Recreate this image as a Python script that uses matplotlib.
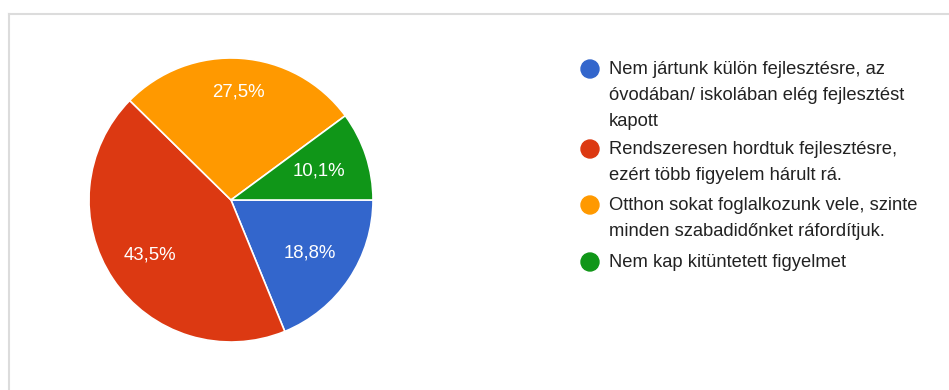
import numpy as np
import matplotlib
matplotlib.use("Agg")
import matplotlib.pyplot as plt
from matplotlib.lines import Line2D

categories = [
    "Nem jártunk külön fejlesztésre, az\nóvodában/ iskolában elég fejlesztést\nkapott",
    "Rendszeresen hordtuk fejlesztésre,\nezért több figyelem hárult rá.",
    "Otthon sokat foglalkozunk vele, szinte\nminden szabadidőnket ráfordítjuk.",
    "Nem kap kitüntetett figyelmet",
]
values = [18.8, 43.5, 27.5, 10.1]
value_labels = ["18,8%", "43,5%", "27,5%", "10,1%"]
colors = ["#3366cc", "#dc3912", "#ff9900", "#109618"]

W, H = 949, 390
fig = plt.figure(figsize=(W / 100, H / 100), dpi=100)
fig.patch.set_facecolor("white")

# full-figure axes in pixel units (y up)
ax = fig.add_axes([0, 0, 1, 1])

# card border: top and left edges
ax.add_line(Line2D([9, W], [H - 14, H - 14], color="#dcdcdc", lw=1.5))
ax.add_line(Line2D([9, 9], [0, H - 14], color="#dcdcdc", lw=1.5))

cx, cy, r = 231, H - 200, 142
wedges, _ = ax.pie(
    values, colors=colors, startangle=0, counterclock=False,
    center=(cx, cy), radius=r, frame=True,
    wedgeprops=dict(edgecolor="white", linewidth=1.2),
)
ax.set_xlim(0, W)
ax.set_ylim(0, H)
ax.set_aspect("equal")
ax.axis("off")

label_dist = [0.67, 0.69, 0.76, 0.65]
for w, txt, d in zip(wedges, value_labels, label_dist):
    ang = np.deg2rad((w.theta1 + w.theta2) / 2)
    ax.text(cx + d * r * np.cos(ang), cy + d * r * np.sin(ang), txt,
            color="white", fontsize=13.4, family="Liberation Sans",
            ha="center", va="center")

# legend
legend_y = [69, 149, 205, 262]
for y, c, t in zip(legend_y, colors, categories):
    ax.add_patch(plt.Circle((590, H - y), 9, color=c))
    ax.text(609, H - y + 8, t, color="#222222", fontsize=13.2,
            family="Liberation Sans", ha="left", va="top", linespacing=1.68)

fig.savefig("out.png", dpi=100)
